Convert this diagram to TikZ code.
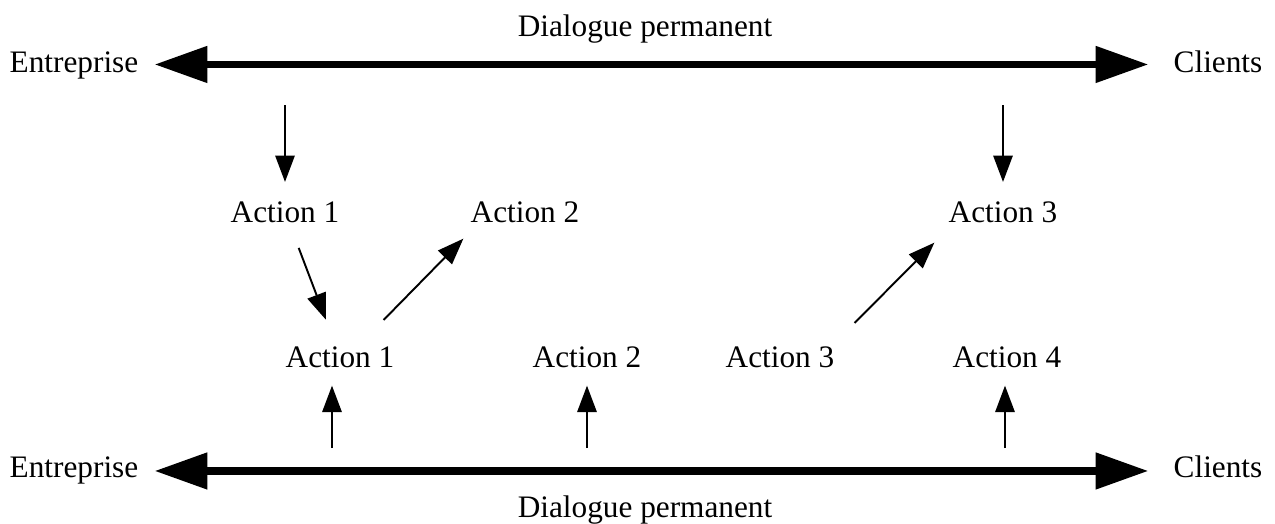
\documentclass[tikz,border=0pt]{standalone}
\usepackage{fontspec}
\setmainfont{Liberation Serif}
\usetikzlibrary{arrows.meta}
\begin{document}
\begin{tikzpicture}[x=0.02cm, y=-0.02cm,
    lbl/.style={inner sep=0pt, anchor=base, font=\fontsize{17.8}{21}\selectfont},
    dialogue/.style={line width=4.2pt, {Triangle[length=30pt,width=20pt]}-{Triangle[length=30pt,width=20pt]}},
    link/.style={line width=1.1pt, ->},
    >={Triangle[length=15pt,width=11pt]}
]
  \useasboundingbox (0,0) rectangle (1275,524);
  % haut
  \node[lbl] (ent1) at (74,72)    {Entreprise};
  \node[lbl] (cli1) at (1218,72)  {Clients};
  \node[lbl] (dia1) at (645,36)   {Dialogue permanent};
  \node[lbl] (a1t)  at (285,222)  {Action 1};
  \node[lbl] (a2t)  at (525,222)  {Action 2};
  \node[lbl] (a3t)  at (1003,222) {Action 3};
  % milieu
  \node[lbl] (a1m)  at (340,367)  {Action 1};
  \node[lbl] (a2m)  at (587,367)  {Action 2};
  \node[lbl] (a3m)  at (780,367)  {Action 3};
  \node[lbl] (a4m)  at (1007,367) {Action 4};
  % bas
  \node[lbl] (ent2) at (74,477.5)   {Entreprise};
  \node[lbl] (cli2) at (1218,477.5) {Clients};
  \node[lbl] (dia2) at (645,517)    {Dialogue permanent};
  \coordinate (d1) at (285,105);
  \coordinate (d3) at (1003,105);
  \coordinate (u1) at (332,448);
  \coordinate (u2) at (587,448);
  \coordinate (u4) at (1005,448);
  \draw[dialogue, shorten <=0.32cm, shorten >=0.5cm] ([yshift=0.07cm]ent1.mid east) -- ([yshift=0.07cm]cli1.mid west);
  \draw[dialogue, shorten <=0.32cm, shorten >=0.5cm] ([yshift=0.05cm]ent2.mid east) -- ([yshift=0.05cm]cli2.mid west);
  \draw[link, shorten >=0.38cm] (d1) -- (d1 |- a1t.north);
  \draw[link, shorten >=0.38cm] (d3) -- (d3 |- a3t.north);
  \draw[link, shorten <=0.54cm, shorten >=0.56cm] (a1t) -- (a1m);
  \draw[link] ([shift={(-11,-26)}]a1m.north east) -- ([shift={(-7,16)}]a2t.south west);
  \draw[link] ([shift={(20,-23)}]a3m.north east) -- ([shift={(-14,20)}]a3t.south west);
  \draw[link, shorten >=0.36cm] (u1) -- (u1 |- a1m.south);
  \draw[link, shorten >=0.36cm] (u2) -- (u2 |- a2m.south);
  \draw[link, shorten >=0.36cm] (u4) -- (u4 |- a4m.south);
\end{tikzpicture}
\end{document}
